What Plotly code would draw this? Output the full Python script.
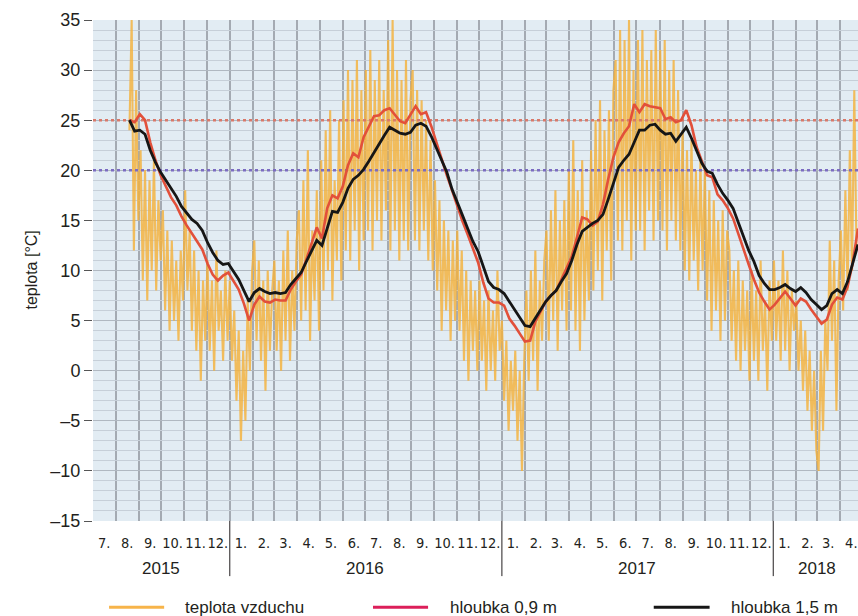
import pandas as pd
import plotly.graph_objects as go

# ---------------- data ----------------
air_start = "2015-08-19"          # air temperature, one value every 3 days
air_temp = [
    24, 35, 12, 28, 15,                                   # Aug 2015
    22, 9, 20, 7, 19, 10, 21, 8, 17, 11,                  # Sep
    16, 6, 14, 4, 13, 5, 11, 3, 12, 7,                    # Oct
    18, 8, 14, 4, 12, 2, 10, -1, 9, 3,                    # Nov
    11, 2, 9, 0, 12, 4, 8, 1, 10, 3,                      # Dec
    9, 1, 6, -3, 4, -7, 2, -5, 7, 0, 10,                  # Jan 2016
    13, 3, 11, 1, 9, -2, 10, 2, 8,                        # Feb
    11, 2, 9, 0, 12, 3, 14, 1, 10, 4, 13,                 # Mar
    16, 5, 19, 6, 22, 3, 14, 7, 18, 4,                    # Apr
    21, 8, 24, 10, 26, 7, 19, 11, 25, 9,                  # May
    27, 12, 30, 11, 29, 14, 31, 10, 28, 13,               # Jun
    30, 14, 32, 12, 29, 15, 31, 13, 28, 16,               # Jul
    33, 12, 35, 14, 30, 11, 29, 13, 31, 12, 27,           # Aug
    30, 13, 28, 12, 27, 14, 25, 11, 23, 10,               # Sep
    19, 8, 17, 4, 15, 6, 14, 3, 13, 5,                    # Oct
    14, 4, 12, 1, 10, -1, 9, 2, 8, 0,                     # Nov
    9, 1, 7, -2, 8, 0, 6, -1, 10, 2,                      # Dec
    5, -3, 3, -6, 1, -4, 2, -7, 0, -10, 1,                # Jan 2017
    8, -1, 10, 1, 12, -2, 9, 3, 11,                       # Feb
    14, 3, 16, 5, 18, 2, 15, 6, 17, 4,                    # Mar
    20, 6, 23, 4, 18, 2, 21, 5, 16, 7,                    # Apr
    22, 8, 25, 10, 27, 7, 24, 12, 26, 9, 28,              # May
    31, 13, 34, 12, 33, 15, 35, 11, 30, 14,               # Jun
    33, 14, 34, 12, 31, 16, 32, 13, 34, 15,               # Jul
    32, 14, 33, 12, 30, 15, 31, 13, 28, 12,               # Aug
    24, 10, 22, 9, 23, 11, 20, 8, 21, 10,                 # Sep
    20, 7, 18, 4, 17, 6, 15, 3, 16, 5, 14,                # Oct
    12, 3, 10, 1, 11, 0, 9, 2, 8, -1,                     # Nov
    10, 1, 8, -1, 11, 2, 7, -2, 9, 3,                     # Dec
    11, 3, 9, 1, 12, 2, 10, 0, 8, 4,                      # Jan 2018
    7, 0, 5, -2, 4, -4, 2, -6, 0, -8,                     # Feb
    -10, 2, -6, 5, 0, 13, 3, 11, -4, 9,                   # Mar
    14, 6, 18, 8, 22, 10, 28, 12,                         # Apr
]

soil_start = "2015-08-19"         # soil temperatures, weekly
depth_09 = [
    25.0, 24.8, 25.6, 25.0, 22.8, 21.0, 19.5, 18.4, 17.3, 16.5,
    15.4, 14.5, 13.7, 13.0, 12.1, 10.7, 9.6, 9.0, 9.5, 9.8,
    9.0, 8.1, 6.7, 5.0, 6.6, 7.4, 6.9, 6.8, 7.1, 7.0,
    7.0, 8.1, 8.9, 9.6, 11.1, 12.7, 14.3, 13.2, 16.2, 17.5,
    17.2, 18.4, 20.5, 21.7, 21.3, 23.3, 24.3, 25.4, 25.5, 26.0,
    26.2, 25.5, 24.9, 24.7, 25.5, 26.4, 25.6, 25.8, 24.4, 22.7,
    21.1, 19.5, 18.0, 16.4, 14.9, 13.6, 12.2, 10.8, 8.8, 7.2,
    6.8, 6.8, 6.5, 5.2, 4.5, 3.7, 2.9, 3.0, 4.9, 5.9,
    6.9, 7.5, 8.0, 9.1, 10.3, 11.4, 13.3, 15.3, 15.1, 14.5,
    14.9, 16.6, 19.1, 21.3, 22.8, 23.7, 24.4, 26.6, 25.8, 26.6,
    26.4, 26.3, 26.2, 25.1, 25.3, 24.8, 25.0, 26.0, 24.5, 22.3,
    20.8, 19.5, 19.3, 17.6, 17.0, 16.2, 15.2, 13.6, 12.0, 10.6,
    9.1, 7.8, 6.9, 6.1, 6.6, 7.3, 7.9, 7.2, 6.5, 7.2,
    6.9, 6.1, 5.4, 4.7, 5.1, 6.6, 7.3, 7.1, 8.4, 10.8,
    14.2,
]
depth_15 = [
    25.0, 23.9, 24.0, 23.6, 22.0, 20.8, 19.8, 19.0, 18.2, 17.4,
    16.4, 15.7, 15.1, 14.7, 14.0, 12.8, 11.8, 11.0, 10.6, 10.7,
    9.9, 9.1, 8.0, 6.9, 7.8, 8.2, 7.9, 7.7, 7.8, 7.7,
    7.8, 8.6, 9.2, 9.8, 10.9, 12.0, 13.0, 12.5, 14.2, 15.9,
    15.8, 16.8, 18.2, 19.1, 19.5, 20.1, 20.9, 21.8, 22.6, 23.5,
    24.3, 24.0, 23.7, 23.6, 23.8, 24.5, 24.7, 24.4, 23.4, 22.2,
    21.0, 19.8, 18.1, 16.7, 15.5, 14.2, 12.9, 11.9, 10.3, 8.9,
    8.3, 8.1, 7.7, 6.9, 6.1, 5.3, 4.5, 4.4, 5.2, 6.0,
    6.9, 7.5, 8.0, 8.9, 9.7, 11.0, 12.6, 13.9, 14.3, 14.7,
    15.0, 15.6, 17.1, 18.8, 20.3, 21.0, 21.6, 22.8, 24.0, 24.0,
    24.5, 24.6, 24.0, 23.6, 23.7, 22.9, 23.6, 24.3, 23.2, 21.9,
    20.7, 19.9, 19.7, 18.6, 17.7, 17.0, 16.2, 14.8, 13.3, 12.0,
    10.9, 9.5, 8.7, 8.1, 8.1, 8.3, 8.6, 8.2, 7.9, 8.3,
    7.8, 7.1, 6.6, 6.1, 6.5, 7.7, 8.1, 7.7, 8.9, 10.7,
    12.6,
]

limit_upper = 25
limit_lower = 20
x_range = ["2015-07-01", "2018-04-25"]
first_month, last_month = "2015-07-01", "2018-04-01"
y_range = [-15, 35]
y_tick_vals = [35, 30, 25, 20, 15, 10, 5, 0, -5, -10, -15]
y_tick_text = ["35", "30", "25", "20", "15", "10", "5", "0", "–5", "–10", "–15"]
years = ["2015", "2016", "2017", "2018"]
year_centers = ["2015-10-01", "2016-07-01", "2017-07-02", "2018-03-01"]
year_bounds = ["2016-01-01", "2017-01-01", "2018-01-01"]
series_names = ["teplota vzduchu", "hloubka 0,9 m", "hloubka 1,5 m"]
y_title = "teplota [°C]"

# ---------------- styling ----------------
C_AIR = "#f5b23c"
C_09 = "#e2503a"
C_15 = "#161616"
C_LEG = ["#f7b44a", "#dc1f5a", "#161616"]
TXT = "#231f20"
FONT = "Liberation Sans, Arial, sans-serif"
NARROW = "Liberation Sans Narrow, DejaVu Sans Condensed, Roboto Condensed, Liberation Sans, sans-serif"

air_dates = pd.date_range(air_start, periods=len(air_temp), freq="3D")
soil_dates = pd.date_range(soil_start, periods=len(depth_15), freq="7D")
month_starts = pd.date_range(first_month, last_month, freq="MS")
month_mids = month_starts + pd.Timedelta(days=15)
month_text = [f"{d.month}." for d in month_starts]

fig = go.Figure()
fig.add_trace(go.Scatter(x=air_dates, y=air_temp, mode="lines", name=series_names[0],
                         line=dict(color=C_AIR, width=2.1), opacity=0.82, showlegend=False))
fig.add_trace(go.Scatter(x=x_range, y=[limit_upper, limit_upper], mode="lines",
                         line=dict(color="#d9796a", width=2.4, dash="dot"),
                         showlegend=False, hoverinfo="skip"))
fig.add_trace(go.Scatter(x=x_range, y=[limit_lower, limit_lower], mode="lines",
                         line=dict(color="#7c6cc2", width=2.4, dash="dot"),
                         showlegend=False, hoverinfo="skip"))
fig.add_trace(go.Scatter(x=soil_dates, y=depth_09, mode="lines", name=series_names[1],
                         line=dict(color=C_09, width=2.6), showlegend=False))
fig.add_trace(go.Scatter(x=soil_dates, y=depth_15, mode="lines", name=series_names[2],
                         line=dict(color=C_15, width=2.8), showlegend=False))

# helper: paper fraction of a date along x range
x0d, x1d = pd.Timestamp(x_range[0]), pd.Timestamp(x_range[1])
def xfrac(d):
    return (pd.Timestamp(d) - x0d) / (x1d - x0d)

shapes = []
for b in year_bounds:
    f = xfrac(b)
    shapes.append(dict(type="line", xref="paper", yref="paper", x0=f, x1=f,
                       y0=0, y1=-0.11, line=dict(color=TXT, width=1)))

annotations = []
for yr, c in zip(years, year_centers):
    annotations.append(dict(text=yr, x=c, xref="x", y=-0.094, yref="paper",
                            showarrow=False, xanchor="center", yanchor="middle",
                            font=dict(family=FONT, size=17, color=TXT)))
annotations.append(dict(text=y_title, x=-0.081, xref="paper", y=0.5, yref="paper",
                        textangle=-90, showarrow=False, xanchor="center", yanchor="middle",
                        font=dict(family=FONT, size=16, color=TXT)))

# legend drawn below the chart
leg_y = -0.172
leg_lines = [(0.021, 0.093), (0.366, 0.438), (0.733, 0.806)]
leg_text_x = [0.118, 0.464, 0.832]
for (a, b), tx, col, nm in zip(leg_lines, leg_text_x, C_LEG, series_names):
    shapes.append(dict(type="line", xref="paper", yref="paper", x0=a, x1=b,
                       y0=leg_y, y1=leg_y, line=dict(color=col, width=3)))
    annotations.append(dict(text=nm, x=tx, xref="paper", y=leg_y, yref="paper",
                            showarrow=False, xanchor="left", yanchor="middle",
                            font=dict(family=FONT, size=17, color=TXT)))

fig.update_layout(
    width=858, height=616, autosize=False,
    margin=dict(l=93, r=0, t=20, b=95),
    paper_bgcolor="white", plot_bgcolor="#e2ecf3",
    showlegend=False,
    shapes=shapes, annotations=annotations,
    xaxis=dict(type="date", range=x_range, tickmode="array",
               tickvals=list(month_mids), ticktext=month_text,
               ticks="", tickangle=0, showgrid=False,
               minor=dict(tickmode="linear", tick0=first_month, dtick="M1",
                          showgrid=True, gridcolor="#a4aab2", gridwidth=2, ticks=""),
               showline=False, zeroline=False, ticklabelstandoff=11,
               tickfont=dict(family=NARROW, size=14.5, color=TXT)),
    yaxis=dict(range=y_range, tickmode="array", tickvals=y_tick_vals, ticktext=y_tick_text,
               ticks="outside", ticklen=8, tickwidth=1, tickcolor="#555555",
               showgrid=True, gridcolor="#b0b8c1", gridwidth=1.2,
               minor=dict(tickmode="linear", tick0=0, dtick=1, showgrid=True,
                          gridcolor="#c6cfd8", gridwidth=1),
               showline=False, zeroline=False,
               tickfont=dict(family=FONT, size=18, color=TXT)),
)

fig.write_html("out.html")
